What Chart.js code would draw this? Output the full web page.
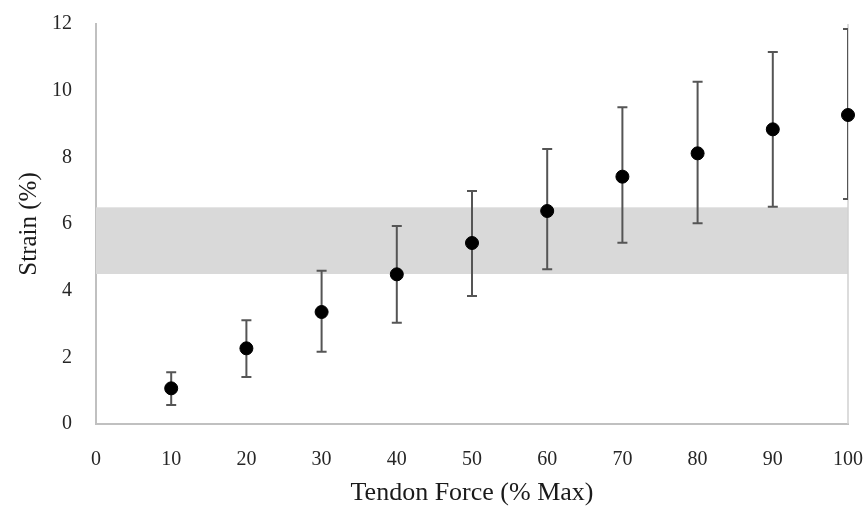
<!DOCTYPE html>
<html lang="en">
<head>
    <meta charset="UTF-8">
    <title>Tendon Force vs Strain</title>
    <style>
        html, body {
            margin: 0;
            padding: 0;
            background: #ffffff;
        }
        #wrap {
            width: 867px;
            height: 509px;
        }
    </style>
    <script src="https://cdn.jsdelivr.net/npm/chart.js"></script>
</head>
<body>
    <div id="wrap"><canvas id="strainChart" width="867" height="509"></canvas></div>

    <script>
        // values
        const force = [10, 20, 30, 40, 50, 60, 70, 80, 90, 100];
        const strain = [1.07, 2.27, 3.36, 4.49, 5.43, 6.39, 7.42, 8.12, 8.84, 9.27];
        const errLow = [0.57, 1.41, 2.17, 3.04, 3.84, 4.64, 5.44, 6.02, 6.52, 6.75];
        const errHigh = [1.55, 3.11, 4.60, 5.94, 6.99, 8.25, 9.50, 10.27, 11.16, 11.85];
        const bandRange = [4.5, 6.5];

        const fontFam = '"Liberation Serif", "Times New Roman", serif';

        // grey reference band behind the points
        const bandPlugin = {
            id: 'band',
            beforeDatasetsDraw(chart) {
                const { ctx, chartArea, scales } = chart;
                const yTop = scales.y.getPixelForValue(bandRange[1]);
                const yBot = scales.y.getPixelForValue(bandRange[0]);
                ctx.save();
                ctx.fillStyle = '#d9d9d9';
                ctx.fillRect(chartArea.left, yTop, chartArea.right - chartArea.left, yBot - yTop);
                // right border of the plot box
                ctx.strokeStyle = '#d0d0d0';
                ctx.lineWidth = 1.5;
                ctx.beginPath();
                ctx.moveTo(chartArea.right, chartArea.top);
                ctx.lineTo(chartArea.right, chartArea.bottom);
                ctx.stroke();
                ctx.restore();
            }
        };

        // vertical error bars with caps
        const errorBars = {
            id: 'errorBars',
            beforeDatasetsDraw(chart) {
                const { ctx, chartArea, scales } = chart;
                ctx.save();
                ctx.beginPath();
                ctx.rect(chartArea.left, chartArea.top - 2, chartArea.right - chartArea.left, chartArea.bottom - chartArea.top + 4);
                ctx.clip();
                ctx.strokeStyle = '#555555';
                ctx.lineWidth = 2;
                force.forEach((f, i) => {
                    const x = scales.x.getPixelForValue(f);
                    const yh = scales.y.getPixelForValue(errHigh[i]);
                    const yl = scales.y.getPixelForValue(errLow[i]);
                    ctx.beginPath();
                    ctx.moveTo(x, yh);
                    ctx.lineTo(x, yl);
                    ctx.moveTo(x - 5, yh);
                    ctx.lineTo(x + 5, yh);
                    ctx.moveTo(x - 5, yl);
                    ctx.lineTo(x + 5, yl);
                    ctx.stroke();
                });
                ctx.restore();
            }
        };

        // invisible grid, tick length used only as label spacing
        const hiddenGrid = {
            display: true,
            drawOnChartArea: false,
            drawTicks: true,
            tickLength: 20,
            color: 'transparent',
            tickColor: 'transparent'
        };

        const ctx = document.getElementById('strainChart').getContext('2d');
        new Chart(ctx, {
            type: 'scatter',
            data: {
                datasets: [{
                    label: 'Strain',
                    data: force.map((f, i) => ({ x: f, y: strain[i] })),
                    backgroundColor: '#000000',
                    borderColor: '#000000',
                    pointRadius: 6.5,
                    pointHoverRadius: 6.5,
                    clip: false
                }]
            },
            options: {
                responsive: false,
                animation: false,
                layout: {
                    padding: { top: 24, right: 19, left: 14, bottom: 0 }
                },
                plugins: {
                    legend: { display: false },
                    tooltip: { enabled: false }
                },
                scales: {
                    x: {
                        type: 'linear',
                        min: 0,
                        max: 100,
                        ticks: {
                            stepSize: 10,
                            color: '#262626',
                            padding: 4,
                            font: { family: fontFam, size: 20 }
                        },
                        grid: hiddenGrid,
                        border: { display: true, color: '#c0c0c0', width: 2 },
                        title: {
                            display: true,
                            text: 'Tendon Force (% Max)',
                            color: '#1a1a1a',
                            padding: { top: 4, bottom: 0 },
                            font: { family: fontFam, size: 26 }
                        },
                        afterFit(scale) { scale.height = 85; }
                    },
                    y: {
                        type: 'linear',
                        min: 0,
                        max: 12,
                        ticks: {
                            stepSize: 2,
                            color: '#262626',
                            padding: 4,
                            font: { family: fontFam, size: 20 }
                        },
                        grid: hiddenGrid,
                        border: { display: true, color: '#c0c0c0', width: 2 },
                        title: {
                            display: true,
                            text: 'Strain (%)',
                            color: '#1a1a1a',
                            padding: { top: 0, bottom: 10 },
                            font: { family: fontFam, size: 25 }
                        },
                        afterFit(scale) { scale.width = 82; }
                    }
                }
            },
            plugins: [bandPlugin, errorBars]
        });
    </script>
</body>
</html>
